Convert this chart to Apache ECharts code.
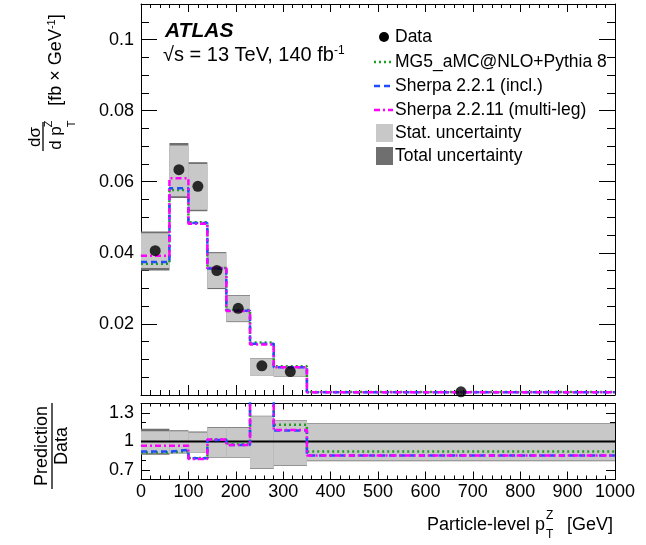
<!DOCTYPE html>
<html><head><meta charset="utf-8">
<script src="https://cdn.jsdelivr.net/npm/echarts@6/dist/echarts.min.js"></script>
<style>html,body{margin:0;padding:0;background:#fff}#c{width:646px;height:545px}</style>
</head><body><div id="c"></div>
<script>
// ---------------- data ----------------
const binEdges   = [0, 60, 100, 140, 180, 230, 280, 350, 1000];
const dataVal    = [0.0406, 0.0634, 0.0587, 0.0350, 0.0244, 0.0082, 0.0066, 0.0009];
const statLo     = [0.0357, 0.0559, 0.0521, 0.0301, 0.0207, 0.0056, 0.0052, 0.0007];
const statHi     = [0.0455, 0.0702, 0.0650, 0.0399, 0.0279, 0.0103, 0.0078, 0.0011];
const totLo      = [0.0350, 0.0554, 0.0517, 0.0298, 0.0205, 0.0055, 0.0051, 0.0007];
const totHi      = [0.0460, 0.0709, 0.0655, 0.0402, 0.0281, 0.0104, 0.0079, 0.0011];
const mg5        = [0.0369, 0.0577, 0.0486, 0.0357, 0.0239, 0.0148, 0.0081, 0.00085];
const sherpa221  = [0.0374, 0.0582, 0.0484, 0.0356, 0.0237, 0.0144, 0.0078, 0.0008];
const sherpa2211 = [0.0392, 0.0610, 0.0482, 0.0357, 0.0236, 0.0142, 0.0078, 0.0008];
// ratio panel
const ratioStatLo = [0.876, 0.882, 0.890, 0.835, 0.835, 0.720, 0.752, 0.800];
const ratioStatHi = [1.108, 1.107, 1.096, 1.145, 1.145, 1.265, 1.218, 1.190];
const ratioTotLo  = [0.860, 0.874, 0.884, 0.828, 0.828, 0.712, 0.745, 0.792];
const ratioTotHi  = [1.134, 1.118, 1.106, 1.152, 1.152, 1.272, 1.225, 1.196];
const ratioMg5        = [0.885, 0.900, 0.826, 1.020, 0.980, 1.750, 1.176, 0.894];
const ratioSherpa221  = [0.894, 0.911, 0.823, 1.017, 0.964, 1.750, 1.116, 0.852];
const ratioSherpa2211 = [0.954, 0.954, 0.815, 1.022, 0.964, 1.750, 1.120, 0.852];
const ratioRef = 1;
// ticks
const xTickLabels   = [0, 100, 200, 300, 400, 500, 600, 700, 800, 900, 1000];
const yTopLabels    = [0.02, 0.04, 0.06, 0.08, 0.1];
const yTopMajor     = [0, 0.02, 0.04, 0.06, 0.08, 0.1];
const yRatioLabels  = [0.7, 1, 1.3];
const yRatioMinor   = [0.6, 0.8, 0.9, 1.1, 1.2, 1.4];
const legendLabels  = ['Data', 'MG5_aMC@NLO+Pythia 8', 'Sherpa 2.2.1 (incl.)', 'Sherpa 2.2.11 (multi-leg)', 'Stat. uncertainty', 'Total uncertainty'];

// ---------------- helpers ----------------
const FONT = "'Liberation Sans', Arial, Helvetica, sans-serif";
const C_GREEN = '#1f9f1f', C_BLUE = '#1f4cff', C_MAG = '#ff00ff';
const C_STAT = '#c8c8c8', C_TOT = '#6f6f6f';
const DASH_G = [2, 3], DASH_B = [6, 4], DASH_M = [6, 3, 2, 3];
const yTopMinor = [];
for (let k = 1; k <= 22; k++) { const v = +(k * 0.005).toFixed(3); if (k % 4 !== 0) yTopMinor.push(v); }

function steps(vals) {
  const pts = vals.map((v, i) => [binEdges[i], v]);
  pts.push([binEdges[binEdges.length - 1], vals[vals.length - 1]]);
  return pts;
}
function boxes(lo, hi) { return lo.map((l, i) => [binEdges[i], binEdges[i + 1], l, hi[i]]); }
function renderBox(color) {
  return function (params, api) {
    const p0 = api.coord([api.value(0), api.value(3)]);
    const p1 = api.coord([api.value(1), api.value(2)]);
    const cs = params.coordSys;
    const r = echarts.graphic.clipRectByRect(
      { x: p0[0], y: p0[1], width: p1[0] - p0[0], height: p1[1] - p0[1] },
      { x: cs.x, y: cs.y, width: cs.width, height: cs.height });
    return r && { type: 'rect', shape: r, style: { fill: color } };
  };
}
const lblStyle = { color: '#000', fontFamily: FONT, fontSize: 18 };
function xAx(grid, pos, showLabel, tl, ml) {
  return {
    type: 'value', gridIndex: grid, position: pos, min: 0, max: 1000, interval: 100,
    axisLine: { show: true, onZero: false, lineStyle: { color: '#000', width: 1 } },
    axisTick: { show: true, inside: true, length: tl, lineStyle: { color: '#000', width: 1 } },
    minorTick: { show: true, splitNumber: 5, length: ml, lineStyle: { color: '#000', width: 1 } },
    axisLabel: Object.assign({ show: showLabel, margin: 4, interval: 0, hideOverlap: false,
      customValues: xTickLabels, formatter: v => String(v) }, lblStyle),
    splitLine: { show: false }, minorSplitLine: { show: false }
  };
}
function yAx(grid, pos, min, max, ticks, tl, labels, fmt, line) {
  return {
    type: 'value', gridIndex: grid, position: pos, min: min, max: max,
    axisLine: { show: line, onZero: false, lineStyle: { color: '#000', width: 1 } },
    axisTick: { show: true, inside: true, length: tl, customValues: ticks, lineStyle: { color: '#000', width: 1 } },
    axisLabel: labels ? Object.assign({ show: true, margin: 7, customValues: labels, formatter: fmt }, lblStyle) : { show: false },
    splitLine: { show: false }
  };
}
const fmtTop = v => String(+(+v).toFixed(3));
const fmtRatio = v => String(+(+v).toFixed(2));

const series = [];
// top panel
series.push({ type: 'custom', xAxisIndex: 0, yAxisIndex: 0, clip: true, z: 1, renderItem: renderBox(C_TOT), data: boxes(totLo, totHi), encode: { x: [0, 1], y: [2, 3] }, silent: true });
series.push({ type: 'custom', xAxisIndex: 0, yAxisIndex: 0, clip: true, z: 2, renderItem: renderBox(C_STAT), data: boxes(statLo, statHi), encode: { x: [0, 1], y: [2, 3] }, silent: true });
function stepLine(xi, yi, vals, color, dash, z) {
  return { type: 'line', xAxisIndex: xi, yAxisIndex: yi, step: 'end', symbol: 'none', clip: true, z: z,
    data: steps(vals), lineStyle: { color: color, width: 2.5, type: dash }, silent: true };
}
series.push(stepLine(0, 0, mg5, C_GREEN, DASH_G, 3));
series.push(stepLine(0, 0, sherpa221, C_BLUE, DASH_B, 4));
series.push(stepLine(0, 0, sherpa2211, C_MAG, DASH_M, 5));
series.push({ type: 'scatter', xAxisIndex: 0, yAxisIndex: 0, z: 6, symbol: 'circle', symbolSize: 11,
  itemStyle: { color: '#000' }, data: dataVal.map((v, i) => [(binEdges[i] + binEdges[i + 1]) / 2, v]), silent: true });
// ratio panel
series.push({ type: 'custom', xAxisIndex: 2, yAxisIndex: 4, clip: true, z: 1, renderItem: renderBox(C_TOT), data: boxes(ratioTotLo, ratioTotHi), encode: { x: [0, 1], y: [2, 3] }, silent: true });
series.push({ type: 'custom', xAxisIndex: 2, yAxisIndex: 4, clip: true, z: 2, renderItem: renderBox(C_STAT), data: boxes(ratioStatLo, ratioStatHi), encode: { x: [0, 1], y: [2, 3] }, silent: true });
series.push({ type: 'line', xAxisIndex: 2, yAxisIndex: 4, symbol: 'none', z: 3, data: [[0, ratioRef], [1000, ratioRef]], lineStyle: { color: '#000', width: 2 }, silent: true });
series.push(stepLine(2, 4, ratioMg5, C_GREEN, DASH_G, 4));
series.push(stepLine(2, 4, ratioSherpa221, C_BLUE, DASH_B, 5));
series.push(stepLine(2, 4, ratioSherpa2211, C_MAG, DASH_M, 6));

// ---------------- graphics ----------------
const g = [];
function txt(x, y, text, opts) {
  g.push(Object.assign({ type: 'text', x: x, y: y, z: 100,
    style: Object.assign({ text: text, fill: '#000', fontFamily: FONT, fontSize: 17, textAlign: 'left', textVerticalAlign: 'middle' }, opts && opts.style || {}) },
    opts && opts.rotation ? { rotation: opts.rotation } : {}));
}
// ATLAS label
txt(165, 31, 'ATLAS', { style: { fontSize: 21, fontWeight: 'bold', fontStyle: 'italic' } });
txt(163, 55, '√s = 13 TeV, 140 fb{sup|-1}', { style: { fontSize: 20, rich: { sup: { fontSize: 12, verticalAlign: 'top', fontFamily: FONT, padding: [0, 0, 9, 0] } } } });
// legend
const legendY = [37, 62, 86, 110, 133, 156];
legendLabels.forEach((t, i) => txt(395, legendY[i], t, { style: { fontSize: 17.5 } }));
g.push({ type: 'circle', shape: { cx: 384, cy: legendY[0], r: 5 }, style: { fill: '#000' }, z: 100 });
[[C_GREEN, DASH_G], [C_BLUE, DASH_B], [C_MAG, DASH_M]].forEach((c, i) => {
  g.push({ type: 'line', shape: { x1: 374, y1: legendY[i + 1], x2: 393, y2: legendY[i + 1] }, style: { stroke: c[0], lineWidth: 2.5, lineDash: c[1] }, z: 100 });
});
g.push({ type: 'rect', shape: { x: 376, y: legendY[4] - 9, width: 17, height: 18 }, style: { fill: C_STAT }, z: 100 });
g.push({ type: 'rect', shape: { x: 376, y: legendY[5] - 9, width: 17, height: 18 }, style: { fill: C_TOT }, z: 100 });
// y axis title (top)
const R = Math.PI / 2;
txt(35, 137, 'dσ', { rotation: R, style: { textAlign: 'center', fontSize: 17 } });
g.push({ type: 'line', shape: { x1: 43, y1: 122, x2: 43, y2: 151 }, style: { stroke: '#000', lineWidth: 1.3 }, z: 100 });
txt(56, 138, 'd p', { rotation: R, style: { textAlign: 'center', fontSize: 17 } });
txt(49, 124, 'Z', { rotation: R, style: { textAlign: 'center', fontSize: 11 } });
txt(72, 124, 'T', { rotation: R, style: { textAlign: 'center', fontSize: 11 } });
txt(56, 60, '[fb × GeV{sup|-1}]', { rotation: R, style: { textAlign: 'center', fontSize: 18, rich: { sup: { fontSize: 11, verticalAlign: 'top', fontFamily: FONT, padding: [0, 0, 8, 0] } } } });
// ratio y title
txt(42, 446, 'Prediction', { rotation: R, style: { textAlign: 'center', fontSize: 18 } });
g.push({ type: 'line', shape: { x1: 52, y1: 403, x2: 52, y2: 489 }, style: { stroke: '#000', lineWidth: 1.3 }, z: 100 });
txt(62, 446, 'Data', { rotation: R, style: { textAlign: 'center', fontSize: 18 } });
// x axis title
txt(545, 525, 'Particle-level p', { style: { textAlign: 'right', fontSize: 18 } });
txt(546, 516, 'Z', { style: { fontSize: 12 } });
txt(546, 535, 'T', { style: { fontSize: 12 } });
txt(567, 525, '[GeV]', { style: { fontSize: 18 } });

const option = {
  animation: false,
  backgroundColor: '#fff',
  grid: [
    { left: 141, right: 31, top: 4, height: 391, containLabel: false },
    { left: 141, right: 31, top: 403.5, height: 76, containLabel: false }
  ],
  xAxis: [
    xAx(0, 'bottom', false, 10, 5),
    xAx(0, 'top', false, 8, 4),
    xAx(1, 'bottom', true, 8, 4),
    xAx(1, 'top', false, 6, 3)
  ],
  yAxis: [
    yAx(0, 'left', 0, 0.11, yTopMajor, 16, yTopLabels, fmtTop, true),
    yAx(0, 'left', 0, 0.11, yTopMinor, 8, null, null, false),
    yAx(0, 'right', 0, 0.11, yTopMajor, 16, null, null, true),
    yAx(0, 'right', 0, 0.11, yTopMinor, 8, null, null, false),
    yAx(1, 'left', 0.6, 1.4, yRatioLabels, 9, yRatioLabels, fmtRatio, true),
    yAx(1, 'left', 0.6, 1.4, yRatioMinor, 5, null, null, false),
    yAx(1, 'right', 0.6, 1.4, yRatioLabels, 9, null, null, true),
    yAx(1, 'right', 0.6, 1.4, yRatioMinor, 5, null, null, false)
  ],
  series: series,
  graphic: g
};
const chart = echarts.init(document.getElementById('c'));
chart.setOption(option);
</script>
</body></html>
